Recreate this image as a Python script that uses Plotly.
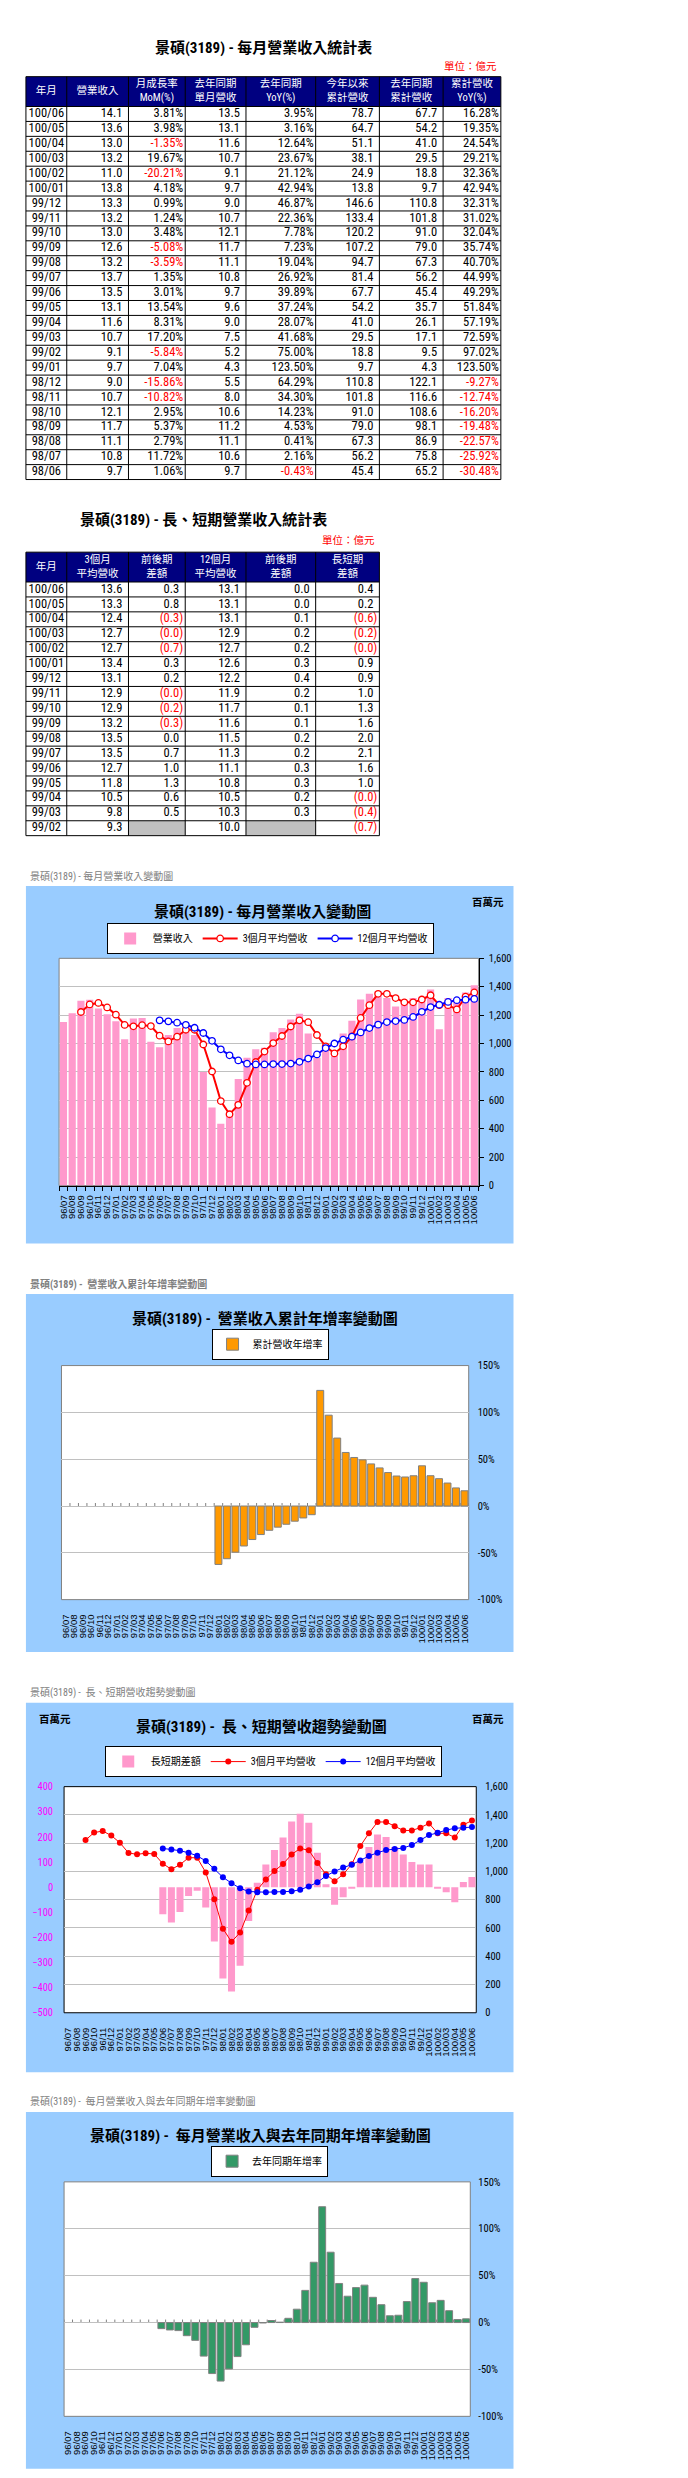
import plotly.graph_objects as go

W, H = 688, 2478
FONT = "Roboto Condensed, Noto Sans CJK TC, sans-serif"
XFONT = "Liberation Sans, Noto Sans CJK TC, sans-serif"

# ---------------- chart data (百萬元 / %) ----------------
months = [
    "96/07", "96/08", "96/09", "96/10", "96/11", "96/12",
    "97/01", "97/02", "97/03", "97/04", "97/05", "97/06",
    "97/07", "97/08", "97/09", "97/10", "97/11", "97/12",
    "98/01", "98/02", "98/03", "98/04", "98/05", "98/06",
    "98/07", "98/08", "98/09", "98/10", "98/11", "98/12",
    "99/01", "99/02", "99/03", "99/04", "99/05", "99/06",
    "99/07", "99/08", "99/09", "99/10", "99/11", "99/12",
    "100/01", "100/02", "100/03", "100/04", "100/05", "100/06",
]
revenue_m = [1151, 1214, 1302, 1309, 1247, 1207,
             1156, 1030, 1177, 1180, 1012, 974, 1060, 1110, 1120, 1060, 800, 550,
             435, 520, 750, 900, 960, 970, 1080, 1110, 1170, 1210, 1070, 900,
             970, 910, 1070, 1160, 1310, 1350, 1370, 1320, 1260, 1300, 1320, 1330,
             1380, 1100, 1320, 1300, 1360, 1410]
avg3_m = [None, None, 1222, 1275, 1286, 1254,
          1203, 1131, 1121, 1129, 1123, 1055, 1015, 1048, 1097, 1097, 993, 803,
          595, 502, 568, 723, 870, 943, 1003, 1053, 1120, 1163, 1150, 1060,
          980, 930, 980, 1050, 1180, 1270, 1350, 1350, 1320, 1290, 1290, 1310,
          1340, 1270, 1270, 1240, 1330, 1360]
avg12_m = [None, None, None, None, None, None,
           None, None, None, None, None, 1163, 1156, 1147, 1132, 1111, 1074, 1019,
           959, 917, 881, 858, 853, 853, 855, 855, 859, 871, 894, 923,
           968, 1000, 1027, 1048, 1078, 1109, 1133, 1151, 1158, 1166, 1187, 1223,
           1257, 1273, 1293, 1305, 1309, 1314]
ls_diff_m = [None, None, None, None, None, None,
             None, None, None, None, None, -108, -141, -99, -35, -14, -81, -216,
             -364, -415, -313, -135, 17, 90, 148, 198, 261, 292, 256, 137,
             12, -70, -40, -4, 100, 160, 210, 200, 160, 130, 100, 90,
             90, -4, -20, -60, 20, 40]
cum_yoy_pct = [None, None, None, None, None, None,
               None, None, None, None, None, None, None, None, None, None, None, None,
               -62.4, -56.3, -49.3, -42.7, -35.8, -30.48, -25.92, -22.57, -19.48, -16.20, -12.74, -9.27,
               123.50, 97.02, 72.59, 57.19, 51.84, 49.29, 44.99, 40.70, 35.74, 32.04, 31.02, 32.31,
               42.94, 32.36, 29.21, 24.54, 19.35, 16.28]
yoy_pct = [None, None, None, None, None, None,
           None, None, None, None, None, -6.5, -7.9, -8.6, -14.0, -19.0, -35.8, -54.4,
           -62.4, -49.5, -36.3, -23.7, -5.1, -0.43, 2.16, 0.41, 4.53, 14.23, 34.30, 64.29,
           123.50, 75.00, 41.68, 28.07, 37.24, 39.89, 26.92, 19.04, 7.23, 7.78, 22.36, 46.87,
           42.94, 21.12, 23.67, 12.64, 3.16, 3.95]

# ---------------- table 1 data (億元 / %) ----------------
t1_month = ["100/06", "100/05", "100/04", "100/03", "100/02", "100/01", "99/12", "99/11", "99/10",
            "99/09", "99/08", "99/07", "99/06", "99/05", "99/04", "99/03", "99/02", "99/01",
            "98/12", "98/11", "98/10", "98/09", "98/08", "98/07", "98/06"]
t1_rev = [14.1, 13.6, 13.0, 13.2, 11.0, 13.8, 13.3, 13.2, 13.0, 12.6, 13.2, 13.7, 13.5, 13.1, 11.6,
          10.7, 9.1, 9.7, 9.0, 10.7, 12.1, 11.7, 11.1, 10.8, 9.7]
t1_mom = [3.81, 3.98, -1.35, 19.67, -20.21, 4.18, 0.99, 1.24, 3.48, -5.08, -3.59, 1.35, 3.01, 13.54,
          8.31, 17.20, -5.84, 7.04, -15.86, -10.82, 2.95, 5.37, 2.79, 11.72, 1.06]
t1_ly_rev = [13.5, 13.1, 11.6, 10.7, 9.1, 9.7, 9.0, 10.7, 12.1, 11.7, 11.1, 10.8, 9.7, 9.6, 9.0, 7.5,
             5.2, 4.3, 5.5, 8.0, 10.6, 11.2, 11.1, 10.6, 9.7]
t1_yoy = [3.95, 3.16, 12.64, 23.67, 21.12, 42.94, 46.87, 22.36, 7.78, 7.23, 19.04, 26.92, 39.89, 37.24,
          28.07, 41.68, 75.00, 123.50, 64.29, 34.30, 14.23, 4.53, 0.41, 2.16, -0.43]
t1_cum = [78.7, 64.7, 51.1, 38.1, 24.9, 13.8, 146.6, 133.4, 120.2, 107.2, 94.7, 81.4, 67.7, 54.2, 41.0,
          29.5, 18.8, 9.7, 110.8, 101.8, 91.0, 79.0, 67.3, 56.2, 45.4]
t1_ly_cum = [67.7, 54.2, 41.0, 29.5, 18.8, 9.7, 110.8, 101.8, 91.0, 79.0, 67.3, 56.2, 45.4, 35.7, 26.1,
             17.1, 9.5, 4.3, 122.1, 116.6, 108.6, 98.1, 86.9, 75.8, 65.2]
t1_cum_yoy = [16.28, 19.35, 24.54, 29.21, 32.36, 42.94, 32.31, 31.02, 32.04, 35.74, 40.70, 44.99, 49.29,
              51.84, 57.19, 72.59, 97.02, 123.50, -9.27, -12.74, -16.20, -19.48, -22.57, -25.92, -30.48]
t1_headers = ["年月", "營業收入", "月成長率<br>MoM(%)", "去年同期<br>單月營收", "去年同期<br>YoY(%)",
              "今年以來<br>累計營收", "去年同期<br>累計營收", "累計營收<br>YoY(%)"]

# ---------------- table 2 data (億元) ----------------
t2_month = ["100/06", "100/05", "100/04", "100/03", "100/02", "100/01", "99/12", "99/11", "99/10",
            "99/09", "99/08", "99/07", "99/06", "99/05", "99/04", "99/03", "99/02"]
t2_avg3 = [13.6, 13.3, 12.4, 12.7, 12.7, 13.4, 13.1, 12.9, 12.9, 13.2, 13.5, 13.5, 12.7, 11.8, 10.5, 9.8, 9.3]
t2_avg3_chg = [0.3, 0.8, -0.3, -0.04, -0.7, 0.3, 0.2, -0.04, -0.2, -0.3, 0.0, 0.7, 1.0, 1.3, 0.6, 0.5, None]
t2_avg12 = [13.1, 13.1, 13.1, 12.9, 12.7, 12.6, 12.2, 11.9, 11.7, 11.6, 11.5, 11.3, 11.1, 10.8, 10.5, 10.3, 10.0]
t2_avg12_chg = [0.0, 0.0, 0.1, 0.2, 0.2, 0.3, 0.4, 0.2, 0.1, 0.1, 0.2, 0.2, 0.3, 0.3, 0.2, 0.3, None]
t2_ls = [0.4, 0.2, -0.6, -0.2, -0.04, 0.9, 0.9, 1.0, 1.3, 1.6, 2.0, 2.1, 1.6, 1.0, -0.04, -0.4, -0.7]
t2_headers = ["年月", "3個月<br>平均營收", "前後期<br>差額", "12個月<br>平均營收", "前後期<br>差額", "長短期<br>差額"]


# ---------------- helpers ----------------
def X(p):
    return p / W


def Y(p):
    return 1 - p / H


fig = go.Figure()
shapes = []
annotations = []


def note(x, y, text, size, color="black", anchor="center", bold=False):
    annotations.append(dict(xref="paper", yref="paper", x=X(x), y=Y(y),
                            text=("<b>%s</b>" % text) if bold else text, showarrow=False,
                            xanchor=anchor, yanchor="middle",
                            font=dict(size=size, color=color, family=FONT)))


def draw_table(top, edges, headers, columns):
    n = len(columns[0][0])
    hh, rh = 30, 15
    body = top + hh
    bottom = body + n * rh
    shapes.append(dict(type="rect", xref="x8", yref="y8", x0=edges[0], x1=edges[-1], y0=top, y1=body,
                       fillcolor="#000080", line=dict(width=0), layer="below"))
    for ci, (vals, kind) in enumerate(columns):
        xs, ys, txt, col = [], [], [], []
        for ri, v in enumerate(vals):
            yc = body + (ri + 0.5) * rh
            if v is None:
                shapes.append(dict(type="rect", xref="x8", yref="y8", x0=edges[ci], x1=edges[ci + 1],
                                   y0=body + ri * rh, y1=body + (ri + 1) * rh,
                                   fillcolor="#C0C0C0", line=dict(width=0), layer="below"))
                continue
            if kind == "label":
                xs.append((edges[ci] + edges[ci + 1]) / 2); txt.append(v); col.append("black")
            elif kind == "num":
                xs.append(edges[ci + 1] - 6); txt.append("%.1f" % v); col.append("black")
            elif kind == "pct":
                xs.append(edges[ci + 1] - 2); txt.append("%.2f%%" % v); col.append("#FF0000" if v < 0 else "black")
            else:  # accounting style with parentheses
                if v < 0:
                    xs.append(edges[ci + 1] - 2); txt.append("(%.1f)" % abs(v)); col.append("#FF0000")
                else:
                    xs.append(edges[ci + 1] - 6); txt.append("%.1f" % v); col.append("black")
            ys.append(yc)
        fig.add_trace(go.Scatter(x=xs, y=ys, text=txt, mode="text",
                                 textposition="middle center" if kind == "label" else "middle left",
                                 textfont=dict(size=12.5, color=col, family=FONT),
                                 xaxis="x8", yaxis="y8", showlegend=False, hoverinfo="skip", cliponaxis=False))
    fig.add_trace(go.Scatter(x=[(edges[i] + edges[i + 1]) / 2 for i in range(len(headers))],
                             y=[top + hh / 2] * len(headers), text=headers, mode="text",
                             textposition="middle center",
                             textfont=dict(size=10.5, color="white", family=FONT),
                             xaxis="x8", yaxis="y8", showlegend=False, hoverinfo="skip", cliponaxis=False))
    ln = dict(color="black", width=1)
    for e in edges:
        shapes.append(dict(type="line", xref="x8", yref="y8", x0=e, x1=e, y0=top, y1=bottom, line=ln, layer="above"))
    for k in range(n + 2):
        yy = top if k == 0 else body + (k - 1) * rh
        shapes.append(dict(type="line", xref="x8", yref="y8", x0=edges[0], x1=edges[-1], y0=yy, y1=yy,
                           line=ln, layer="above"))


# ---------------- tables ----------------
note(255, 34, "景碩(3189) - 每月營業收入統計表", 15, bold=True)
note(490.7, 53, "單位：億元", 10.5, color="#FF0000", anchor="right")
draw_table(63, [16, 57, 119, 176, 237, 307, 371, 435, 493], t1_headers,
           [(t1_month, "label"), (t1_rev, "num"), (t1_mom, "pct"), (t1_ly_rev, "num"), (t1_yoy, "pct"),
            (t1_cum, "num"), (t1_ly_cum, "num"), (t1_cum_yoy, "pct")])

note(194, 508.3, "景碩(3189) - 長、短期營業收入統計表", 15, bold=True)
note(368.3, 529.3, "單位：億元", 10.5, color="#FF0000", anchor="right")
draw_table(541, [16, 57, 119, 176, 237, 307, 371], t2_headers,
           [(t2_month, "label"), (t2_avg3, "paren"), (t2_avg3_chg, "paren"), (t2_avg12, "paren"),
            (t2_avg12_chg, "paren"), (t2_ls, "paren")])

# ---------------- chart frames ----------------
BG = "#99CCFF"
GRID = "#C0C0C0"
frames = [
    # bg box, plot box, border colour
    ((16, 876.7, 505.7, 1236), (49.3, 949.3, 470.7, 1177.7), "#808080"),
    ((16, 1286.7, 505.7, 1646.7), (51.7, 1358.7, 460.7, 1594), "#808080"),
    ((16, 1697.7, 505.7, 2069), (54.3, 1782, 468.3, 2009.3), "black"),
    ((16, 2109, 505.7, 2467.7), (54.3, 2179.3, 462.3, 2415), "#808080"),
]
for bg, pl, bc in frames:
    shapes.append(dict(type="rect", xref="paper", yref="paper", x0=X(bg[0]), x1=X(bg[2]), y0=Y(bg[3]),
                       y1=Y(bg[1]), fillcolor=BG, line=dict(width=0), layer="below"))
    shapes.append(dict(type="rect", xref="paper", yref="paper", x0=X(pl[0]), x1=X(pl[2]), y0=Y(pl[3]),
                       y1=Y(pl[1]), fillcolor="white", line=dict(color=bc, width=1), layer="below"))

P1, P2, P3, P4 = [f[1] for f in frames]


def cat_x(pl, anchor, ticks, ticklen, standoff):
    return dict(domain=[X(pl[0]), X(pl[2])], anchor=anchor, type="category", categoryorder="array",
                categoryarray=months, range=[-0.5, len(months) - 0.5], tickmode="linear", tick0=0, dtick=1,
                tickangle=-90, tickfont=dict(size=9.5, family=XFONT, color="black"), ticks=ticks,
                ticklen=ticklen, tickcolor="black", tickson="boundaries", showline=(ticks == "outside"),
                linecolor="black", linewidth=1, showgrid=False, zeroline=False, fixedrange=True,
                ticklabelstandoff=standoff)


def val_y(pl, anchor, side, rng, **kw):
    d = dict(domain=[Y(pl[3]), Y(pl[1])], anchor=anchor, side=side, range=rng, showgrid=True,
             gridcolor=GRID, gridwidth=1, zeroline=False, fixedrange=True,
             tickfont=dict(size=10.5, family=FONT, color="black"))
    d.update(kw)
    return d


pct_vals = [-100, -50, 0, 50, 100, 150]
pct_text = ["%d%%" % v for v in pct_vals]

# ---------------- chart 1 ----------------
note(18.3, 866.7, "景碩(3189) - 每月營業收入變動圖", 10, color="#808080", anchor="left")
note(253.3, 902.5, "景碩(3189) - 每月營業收入變動圖", 15, bold=True)
note(480.5, 893, "百萬元", 10.5, bold=True)
fig.add_trace(go.Bar(x=months, y=revenue_m, name="營業收入", marker=dict(color="#FF99CC", line=dict(width=0)),
                     xaxis="x", yaxis="y", legend="legend", hoverinfo="skip"))
fig.add_trace(go.Scatter(x=months, y=avg3_m, name="3個月平均營收", mode="lines+markers",
                         line=dict(color="#FF0000", width=2),
                         marker=dict(symbol="circle", size=6.5, color="white", line=dict(color="#FF0000", width=1.3)),
                         xaxis="x", yaxis="y", legend="legend", hoverinfo="skip"))
fig.add_trace(go.Scatter(x=months, y=avg12_m, name="12個月平均營收", mode="lines+markers",
                         line=dict(color="#0000FF", width=2),
                         marker=dict(symbol="circle", size=6.5, color="white", line=dict(color="#0000FF", width=1.3)),
                         xaxis="x", yaxis="y", legend="legend", hoverinfo="skip"))

# ---------------- chart 2 ----------------
note(18.3, 1277.3, "景碩(3189) -  營業收入累計年增率變動圖", 10, color="#808080", anchor="left", bold=True)
note(255.8, 1311.7, "景碩(3189) -  營業收入累計年增率變動圖", 15, bold=True)
fig.add_trace(go.Bar(x=months, y=cum_yoy_pct, name="累計營收年增率",
                     marker=dict(color="#FF9900", line=dict(color="#808080", width=1)),
                     xaxis="x2", yaxis="y2", legend="legend2", hoverinfo="skip"))

# ---------------- chart 3 ----------------
note(18.3, 1687.7, "景碩(3189) -  長、短期營收趨勢變動圖", 10, color="#808080", anchor="left")
note(252.2, 1722.5, "景碩(3189) -  長、短期營收趨勢變動圖", 15, bold=True)
note(45.5, 1714.3, "百萬元", 10.5, bold=True)
note(480.5, 1714.3, "百萬元", 10.5, bold=True)
fig.add_trace(go.Bar(x=months, y=ls_diff_m, name="長短期差額", marker=dict(color="#FF99CC", line=dict(width=0)),
                     xaxis="x3", yaxis="y3", legend="legend3", hoverinfo="skip"))
fig.add_trace(go.Scatter(x=months, y=avg3_m, name="3個月平均營收", mode="lines+markers",
                         line=dict(color="#FF0000", width=1), marker=dict(symbol="circle", size=6, color="#FF0000"),
                         xaxis="x3", yaxis="y4", legend="legend3", hoverinfo="skip"))
fig.add_trace(go.Scatter(x=months, y=avg12_m, name="12個月平均營收", mode="lines+markers",
                         line=dict(color="#0000FF", width=1), marker=dict(symbol="circle", size=6, color="#0000FF"),
                         xaxis="x3", yaxis="y4", legend="legend3", hoverinfo="skip"))

# ---------------- chart 4 ----------------
note(18.3, 2099, "景碩(3189) -  每月營業收入與去年同期年增率變動圖", 10, color="#808080", anchor="left")
note(252, 2133, "景碩(3189) -  每月營業收入與去年同期年增率變動圖", 15, bold=True)
fig.add_trace(go.Bar(x=months, y=yoy_pct, name="去年同期年增率",
                     marker=dict(color="#339966", line=dict(color="#808080", width=1)),
                     xaxis="x4", yaxis="y5", legend="legend4", hoverinfo="skip"))

# small tick marks on the 0% category line (charts 2 and 4)
for xr, yr in (("x2", "y2"), ("x4", "y5")):
    for k in range(len(months) + 1):
        shapes.append(dict(type="line", xref=xr, yref=yr, x0=k - 0.5, x1=k - 0.5, y0=0, y1=3.2,
                           line=dict(color="#808080", width=1), layer="below"))


def legend_cfg(cx, cy, iw=30):
    return dict(x=X(cx), y=Y(cy), xanchor="center", yanchor="middle", orientation="h", bgcolor="white",
                bordercolor="black", borderwidth=1, font=dict(size=10, family=FONT, color="black"),
                itemwidth=iw, tracegroupgap=0, traceorder="normal")


fig.update_layout(
    width=W, height=H, autosize=False, margin=dict(l=0, r=0, t=0, b=0),
    paper_bgcolor="white", plot_bgcolor="rgba(0,0,0,0)", bargap=0.18, showlegend=True,
    font=dict(family=FONT, size=11, color="black"),
    xaxis=cat_x(P1, "y", "outside", 4, 5),
    yaxis=val_y(P1, "x", "right", [0, 1600], dtick=200, tickformat=",d", showline=True, linecolor="black",
                ticks="outside", ticklen=4, tickcolor="black", ticklabelstandoff=3),
    xaxis2=cat_x(P2, "y2", "", 0, 12),
    yaxis2=val_y(P2, "x2", "right", [-100, 150], tickmode="array", tickvals=pct_vals, ticktext=pct_text,
                 ticks="", ticklabelstandoff=8),
    xaxis3=cat_x(P3, "y3", "", 0, 12),
    yaxis3=dict(domain=[Y(P3[3]), Y(P3[1])], anchor="x3", side="left", range=[-500, 400], dtick=100,
                showgrid=False, zeroline=False, fixedrange=True, ticks="", ticklabelstandoff=10,
                tickfont=dict(size=10.5, family=FONT, color="#FF00FF")),
    yaxis4=val_y(P3, "x3", "right", [0, 1600], overlaying="y3", dtick=200, tickformat=",d", ticks="",
                 ticklabelstandoff=8),
    xaxis4=cat_x(P4, "y5", "", 0, 12),
    yaxis5=val_y(P4, "x4", "right", [-100, 150], tickmode="array", tickvals=pct_vals, ticktext=pct_text,
                 ticks="", ticklabelstandoff=7),
    xaxis8=dict(domain=[0, 1], range=[0, W], visible=False, fixedrange=True, anchor="y8"),
    yaxis8=dict(domain=[0, 1], range=[H, 0], visible=False, fixedrange=True, anchor="x8"),
    legend=legend_cfg(261.3, 929.3, 35),
    legend2=legend_cfg(261.2, 1337.2),
    legend3=legend_cfg(264.4, 1756.8, 35),
    legend4=legend_cfg(260.7, 2158.5),
    shapes=shapes,
    annotations=annotations,
)

fig.write_html("out.html")
